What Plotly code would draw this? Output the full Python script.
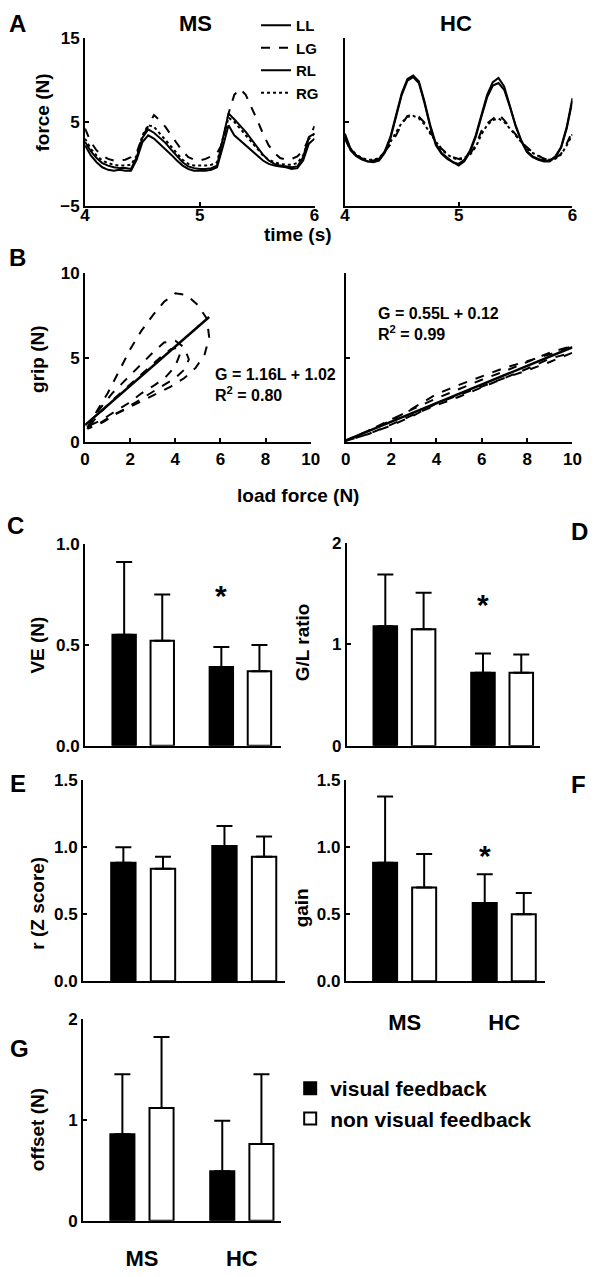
import plotly.graph_objects as go

W, H = 600, 1277

# ---------------- Panel A data (force vs time) ----------------
time_s = [4.00, 4.05, 4.10, 4.15, 4.20, 4.25, 4.30, 4.35, 4.40, 4.45, 4.50, 4.55, 4.60, 4.65,
          4.70, 4.75, 4.80, 4.85, 4.90, 4.95, 5.00, 5.05, 5.10, 5.15, 5.20, 5.25, 5.30, 5.35,
          5.40, 5.45, 5.50, 5.55, 5.60, 5.65, 5.70, 5.75, 5.80, 5.85, 5.90, 5.95, 6.00]

ms_LL = [2.2, 1.0, 0.2, -0.4, -0.7, -0.8, -0.7, -0.8, -0.8, 0.5, 2.6, 3.4, 3.0, 2.4, 1.8, 1.1,
         0.4, -0.2, -0.6, -0.8, -0.8, -0.8, -0.7, -0.4, 2.0, 4.6, 3.4, 2.8, 2.2, 1.6, 1.0, 0.4,
         0.0, -0.2, -0.3, -0.4, -0.6, -0.5, 0.4, 2.4, 3.0]
ms_LG = [4.2, 2.6, 1.6, 1.0, 0.6, 0.4, 0.4, 0.5, 0.8, 1.4, 3.2, 4.6, 5.8, 5.2, 4.4, 3.4, 2.4,
         1.5, 0.8, 0.5, 0.4, 0.6, 0.9, 1.3, 2.5, 6.0, 8.2, 8.9, 8.2, 6.8, 5.2, 3.6, 2.2, 1.3,
         0.7, 0.5, 0.6, 0.9, 1.6, 3.0, 4.5]
ms_RL = [2.6, 1.5, 0.7, 0.1, -0.2, -0.4, -0.5, -0.5, -0.6, 0.8, 3.1, 4.1, 3.7, 3.1, 2.5, 1.7,
         0.9, 0.2, -0.3, -0.5, -0.6, -0.6, -0.5, -0.2, 3.0, 6.0, 5.3, 4.6, 3.8, 2.9, 2.0, 1.1,
         0.4, 0.0, -0.2, -0.3, -0.4, -0.3, 0.8, 3.2, 3.6]
ms_RG = [3.0, 1.8, 1.0, 0.4, 0.1, -0.1, -0.2, -0.2, -0.1, 1.0, 3.4, 4.6, 4.4, 3.6, 2.8, 2.0,
         1.2, 0.5, 0.0, -0.2, -0.2, -0.2, -0.1, 0.2, 3.0, 5.5, 5.0, 4.2, 3.4, 2.6, 1.8, 1.0,
         0.5, 0.2, 0.0, -0.1, -0.1, 0.1, 1.0, 3.0, 3.6]

hc_LL = [3.6, 1.8, 1.0, 0.6, 0.3, 0.2, 0.4, 1.3, 3.0, 5.6, 8.2, 9.9, 10.3, 9.6, 7.2, 4.4, 2.2,
         1.2, 0.6, 0.2, 0.0, 0.5, 1.6, 3.4, 5.8, 8.2, 9.7, 10.2, 9.2, 7.0, 4.6, 2.8, 1.5, 0.9,
         0.6, 0.4, 0.4, 0.9, 2.0, 4.4, 7.8]
hc_LG = [3.0, 1.6, 1.0, 0.6, 0.4, 0.4, 0.6, 1.4, 2.3, 3.4, 4.7, 5.7, 5.8, 5.6, 4.9, 3.8, 2.7,
         1.8, 1.2, 0.8, 0.6, 0.8, 1.2, 2.2, 3.9, 4.8, 5.4, 5.9, 5.2, 4.4, 3.5, 2.6, 2.0, 1.4,
         1.0, 0.6, 0.5, 0.7, 1.2, 2.4, 3.9]
hc_RL = [3.2, 1.6, 0.9, 0.5, 0.3, 0.3, 0.6, 1.5, 3.2, 5.8, 8.4, 10.1, 10.5, 9.8, 7.4, 4.6, 2.4,
         1.3, 0.7, 0.2, -0.2, 0.3, 1.4, 3.2, 5.6, 7.9, 9.3, 9.6, 8.8, 6.8, 4.5, 2.7, 1.4, 0.8,
         0.5, 0.3, 0.3, 0.8, 1.9, 4.2, 7.5]
hc_RG = [3.3, 1.8, 1.1, 0.7, 0.5, 0.5, 0.7, 1.4, 2.6, 3.8, 4.9, 5.6, 5.7, 5.4, 4.7, 3.6, 2.6,
         1.7, 1.1, 0.7, 0.5, 0.7, 1.1, 2.0, 3.5, 4.6, 5.2, 5.4, 5.0, 4.2, 3.3, 2.5, 1.8, 1.3,
         0.9, 0.6, 0.5, 0.6, 1.1, 2.2, 3.5]

# ---------------- Panel B data (grip vs load loops) ----------------
ms_loop1_load = [0.1, 0.5, 1.0, 1.5, 2.0, 2.5, 3.0, 3.5, 4.0, 4.5, 5.0, 5.4, 5.5, 5.3, 4.9, 4.4,
                 3.8, 3.2, 2.6, 2.0, 1.4, 0.8, 0.3, 0.1]
ms_loop1_grip = [0.8, 1.8, 2.9, 4.2, 5.5, 6.6, 7.5, 8.3, 8.8, 8.7, 8.1, 7.3, 6.2, 5.2, 4.4, 3.8,
                 3.3, 2.9, 2.5, 2.1, 1.7, 1.2, 0.9, 0.8]
ms_loop2_load = [0.1, 0.6, 1.2, 1.8, 2.4, 3.0, 3.5, 4.0, 4.4, 4.6, 4.4, 4.0, 3.5, 3.0, 2.4, 1.8,
                 1.2, 0.6, 0.1]
ms_loop2_grip = [0.9, 1.9, 2.9, 3.7, 4.5, 5.3, 5.9, 6.0, 5.6, 4.9, 4.3, 3.8, 3.4, 3.0, 2.5, 2.0,
                 1.6, 1.1, 0.9]
ms_loop3_load = [0.2, 0.7, 1.3, 1.9, 2.5, 3.0, 3.4, 3.8, 4.1, 4.2, 4.0, 3.6, 3.1, 2.5, 1.9, 1.3,
                 0.7, 0.2]
ms_loop3_grip = [1.0, 1.8, 2.6, 3.3, 4.0, 4.6, 5.1, 5.5, 5.6, 5.2, 4.5, 3.9, 3.4, 2.9, 2.3, 1.8,
                 1.3, 1.0]
ms_fit_load = [0.0, 5.5]
ms_fit_grip = [1.02, 7.40]

hc_loop_load = [0, 1, 2, 3, 4, 5, 6, 7, 8, 9, 10, 9, 8, 7, 6, 5, 4, 3, 2, 1, 0]
hc_loop1_grip = [0.1, 0.7, 1.3, 2.05, 2.85, 3.4, 3.9, 4.4, 4.8, 5.2, 5.7, 5.3, 4.75, 4.2, 3.7,
                 3.15, 2.6, 2.0, 1.35, 0.7, 0.1]
hc_loop2_grip = [0.1, 0.5, 1.0, 1.6, 2.3, 2.8, 3.3, 3.8, 4.25, 4.75, 5.3, 4.95, 4.35, 3.8, 3.25,
                 2.7, 2.2, 1.65, 1.05, 0.5, 0.1]
hc_fit_load = [0.0, 10.0]
hc_fit_grip = [0.12, 5.62]

# ---------------- Bar panels C-G ----------------
groups = ["MS", "HC"]
ve_vis, ve_vis_sd = [0.55, 0.39], [0.36, 0.10]
ve_non, ve_non_sd = [0.52, 0.37], [0.23, 0.13]
gl_vis, gl_vis_sd = [1.18, 0.72], [0.51, 0.19]
gl_non, gl_non_sd = [1.15, 0.72], [0.36, 0.18]
r_vis, r_vis_sd = [0.885, 1.01], [0.115, 0.15]
r_non, r_non_sd = [0.84, 0.93], [0.09, 0.15]
gain_vis, gain_vis_sd = [0.885, 0.585], [0.495, 0.215]
gain_non, gain_non_sd = [0.70, 0.50], [0.25, 0.16]
off_vis, off_vis_sd = [0.855, 0.49], [0.595, 0.50]
off_non, off_non_sd = [1.115, 0.76], [0.705, 0.69]

star_x = 0.804            # above HC "visual feedback" bar
star_y_C, star_y_D, star_y_F = 0.78, 1.46, 0.99

FONT = "Liberation Sans, Arial, sans-serif"


def xd(a, b):
    return [a / W, b / W]


def yd(top, bottom):
    return [1 - bottom / H, 1 - top / H]


def px(x):
    return x / W


def py(y):
    return 1 - y / H


fig = go.Figure()

# Panel A
line_specs = [("LL", "solid"), ("LG", "dash"), ("RL", "solid"), ("RG", "dot")]
for (name, dash), ys in zip(line_specs, [ms_LL, ms_LG, ms_RL, ms_RG]):
    fig.add_trace(go.Scatter(x=time_s, y=ys, mode="lines", name=name,
                             line=dict(color="black", width=2, dash=dash),
                             xaxis="x", yaxis="y", legend="legend2", showlegend=True))
for (name, dash), ys in zip(line_specs, [hc_LL, hc_LG, hc_RL, hc_RG]):
    fig.add_trace(go.Scatter(x=time_s, y=ys, mode="lines", name=name,
                             line=dict(color="black", width=2, dash=dash),
                             xaxis="x2", yaxis="y2", showlegend=False))

# Panel B
for lx, ly in [(ms_loop1_load, ms_loop1_grip), (ms_loop2_load, ms_loop2_grip),
               (ms_loop3_load, ms_loop3_grip)]:
    fig.add_trace(go.Scatter(x=lx, y=ly, mode="lines", line=dict(color="black", width=2, dash="dash"),
                             xaxis="x3", yaxis="y3", showlegend=False))
fig.add_trace(go.Scatter(x=ms_fit_load, y=ms_fit_grip, mode="lines",
                         line=dict(color="black", width=2.5), xaxis="x3", yaxis="y3", showlegend=False))
for ly in [hc_loop1_grip, hc_loop2_grip]:
    fig.add_trace(go.Scatter(x=hc_loop_load, y=ly, mode="lines",
                             line=dict(color="black", width=2, dash="dash"),
                             xaxis="x4", yaxis="y4", showlegend=False))
fig.add_trace(go.Scatter(x=hc_fit_load, y=hc_fit_grip, mode="lines",
                         line=dict(color="black", width=2.5), xaxis="x4", yaxis="y4", showlegend=False))

# Bars
bar_sets = [
    ("x5", "y5", ve_vis, ve_vis_sd, ve_non, ve_non_sd, False),
    ("x6", "y6", gl_vis, gl_vis_sd, gl_non, gl_non_sd, False),
    ("x7", "y7", r_vis, r_vis_sd, r_non, r_non_sd, False),
    ("x8", "y8", gain_vis, gain_vis_sd, gain_non, gain_non_sd, False),
    ("x9", "y9", off_vis, off_vis_sd, off_non, off_non_sd, True),
]
for xa, ya, v1, s1, v2, s2, leg in bar_sets:
    fig.add_trace(go.Bar(x=groups, y=v1, name="visual feedback", xaxis=xa, yaxis=ya,
                         marker=dict(color="black", line=dict(color="black", width=2)),
                         error_y=dict(type="data", array=s1, arrayminus=[0, 0], symmetric=False,
                                      color="black", thickness=2, width=8),
                         showlegend=leg))
    fig.add_trace(go.Bar(x=groups, y=v2, name="non visual feedback", xaxis=xa, yaxis=ya,
                         marker=dict(color="white", line=dict(color="black", width=2)),
                         error_y=dict(type="data", array=s2, arrayminus=[0, 0], symmetric=False,
                                      color="black", thickness=2, width=8),
                         showlegend=leg))

tickfont = dict(family=FONT, size=17, color="black", weight="bold")


def base_axis(**kw):
    d = dict(showline=True, linecolor="black", linewidth=2, ticks="inside", ticklen=4,
             tickwidth=2, tickcolor="black", showgrid=False, zeroline=False,
             tickfont=tickfont, fixedrange=True, mirror=False)
    d.update(kw)
    return d


layout = dict(
    width=W, height=H, margin=dict(l=0, r=0, t=0, b=0),
    paper_bgcolor="white", plot_bgcolor="white",
    font=dict(family=FONT, color="black", weight="bold"),
    barmode="group", bargap=0.216, bargroupgap=0.385,
    # A
    xaxis=base_axis(domain=xd(82, 317), range=[4, 6], tickvals=[4, 5, 6], anchor="y",
                    ticklabelstandoff=-7),
    yaxis=base_axis(domain=yd(29, 200), range=[-5, 15], tickvals=[-5, 5, 15], anchor="x"),
    xaxis2=base_axis(domain=xd(348, 581), range=[4, 6], tickvals=[4, 5, 6], anchor="y2",
                     ticklabelstandoff=-7),
    yaxis2=base_axis(domain=yd(29, 200), range=[-5, 15], tickvals=[-5, 5, 15], anchor="x2",
                     showticklabels=False),
    # B
    xaxis3=base_axis(domain=xd(82, 313), range=[0, 10], tickvals=[0, 2, 4, 6, 8, 10], anchor="y3"),
    yaxis3=base_axis(domain=yd(268, 440), range=[0, 10], tickvals=[0, 5, 10], anchor="x3"),
    xaxis4=base_axis(domain=xd(349, 581), range=[0, 10], tickvals=[0, 2, 4, 6, 8, 10], anchor="y4"),
    yaxis4=base_axis(domain=yd(268, 440), range=[0, 10], tickvals=[0, 5, 10], anchor="x4",
                     showticklabels=False),
    # C
    xaxis5=base_axis(domain=xd(82, 283), range=[-0.598, 1.422], ticks="", showticklabels=False,
                     anchor="y5"),
    yaxis5=base_axis(domain=yd(543, 748), range=[0, 1], tickvals=[0, 0.5, 1.0], tickformat=".1f",
                     anchor="x5"),
    # D
    xaxis6=base_axis(domain=xd(350, 548), range=[-0.59, 1.39], ticks="", showticklabels=False,
                     anchor="y6"),
    yaxis6=base_axis(domain=yd(542, 748), range=[0, 2], tickvals=[0, 1, 2], anchor="x6"),
    # E
    xaxis7=base_axis(domain=xd(80, 287), range=[-0.594, 1.406], ticks="", showticklabels=False,
                     anchor="y7"),
    yaxis7=base_axis(domain=yd(783, 987), range=[0, 1.5], tickvals=[0, 0.5, 1.0, 1.5],
                     tickformat=".1f", anchor="x7"),
    # F
    xaxis8=base_axis(domain=xd(349, 553), range=[-0.59, 1.41], ticks="", anchor="y8",
                     tickfont=dict(family=FONT, size=22, color="black", weight="bold"),
                     ticklabelstandoff=20),
    yaxis8=base_axis(domain=yd(783, 987), range=[0, 1.5], tickvals=[0, 0.5, 1.0, 1.5],
                     tickformat=".1f", anchor="x8"),
    # G
    xaxis9=base_axis(domain=xd(80, 283), range=[-0.589, 1.396], ticks="", anchor="y9",
                     tickfont=dict(family=FONT, size=22, color="black", weight="bold"),
                     ticklabelstandoff=17),
    yaxis9=base_axis(domain=yd(1025, 1230), range=[0, 2], tickvals=[0, 1, 2], anchor="x9"),
    legend=dict(x=px(292), y=py(1075), xanchor="left", yanchor="top",
                font=dict(family=FONT, size=21, color="black", weight="bold"),
                bgcolor="rgba(0,0,0,0)", borderwidth=0, tracegroupgap=0),
    legend2=dict(x=px(257), y=1.0, xanchor="left", yanchor="top",
                 font=dict(family=FONT, size=15, color="black", weight="bold"),
                 bgcolor="rgba(0,0,0,0)", borderwidth=0, tracegroupgap=0),
)
fig.update_layout(**layout)

ann = []


def text(x, y, t, size, angle=0, xanchor="center", align="center"):
    ann.append(dict(x=px(x), y=py(y), xref="paper", yref="paper", text=t, showarrow=False,
                    textangle=angle, xanchor=xanchor, yanchor="middle", align=align,
                    font=dict(family=FONT, size=size, color="black", weight="bold")))


# panel letters
for letter, (lx, ly) in {"A": (13, 15), "B": (13, 252), "C": (11, 524), "D": (588, 530),
                         "E": (13, 786), "F": (587, 787), "G": (15, 1055)}.items():
    text(lx, ly, letter, 24)
# titles
text(195, 15, "MS", 22)
text(462, 15, "HC", 22)
text(300, 229, "time (s)", 19)
text(300, 494, "load force (N)", 19)
# y titles
text(38, 105, "force (N)", 19, angle=-90)
text(33, 355, "grip (N)", 19, angle=-90)
text(33, 646, "VE (N)", 19, angle=-90)
text(305, 643, "G/L ratio", 19, angle=-90)
text(33, 908, "r (Z score)", 19, angle=-90)
text(304, 912, "gain", 19, angle=-90)
text(33, 1138, "offset (N)", 19, angle=-90)
# equations
text(213, 382, "G = 1.16L + 1.02<br>R<sup>2</sup> = 0.80", 16, xanchor="left", align="left")
text(380, 320, "G = 0.55L + 0.12<br>R<sup>2</sup> = 0.99", 16, xanchor="left", align="left")

# significance stars
for xa, ya, sy in [("x5", "y5", star_y_C), ("x6", "y6", star_y_D), ("x8", "y8", star_y_F)]:
    ann.append(dict(x=star_x, y=sy, xref=xa, yref=ya, text="*", showarrow=False,
                    yanchor="middle", yshift=-7,
                    font=dict(family=FONT, size=30, color="black", weight="bold")))

fig.update_layout(annotations=ann)
fig.write_html("out.html", config={"displayModeBar": False},
               post_script="document.body.style.margin='0';document.body.style.overflow='hidden';")
